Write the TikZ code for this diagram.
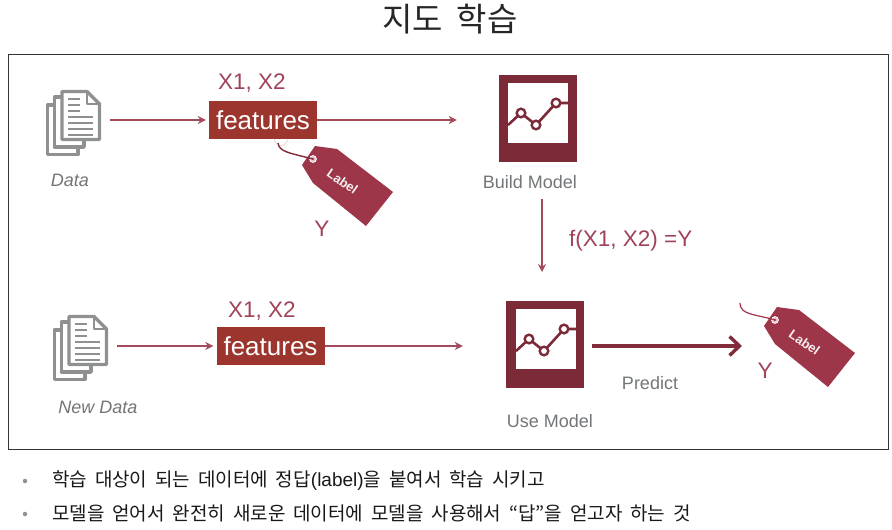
\documentclass[tikz,border=0pt]{standalone}
\usepackage{fontspec}
\setmainfont{Liberation Sans}
\newfontfamily\krfont{Noto Sans CJK KR}
\newfontfamily\krbody[WordSpace=1.85]{Noto Sans CJK KR}
\usetikzlibrary{arrows.meta,calc}
\definecolor{boxred}{HTML}{9B352D}
\definecolor{tagred}{HTML}{9E3649}
\definecolor{modelred}{HTML}{7C2A38}
\definecolor{linered}{HTML}{A34A5C}
\definecolor{txtred}{HTML}{A04358}
\definecolor{txtgray}{HTML}{737678}
\definecolor{icongray}{HTML}{8E9092}
\tikzset{
  x=1pt,y=-1pt,
  featbox/.style={fill=boxred,text=white,font=\fontsize{26}{26}\selectfont,minimum width=108pt,minimum height=38pt,inner sep=0pt},
  modelbox/.style={fill=modelred,minimum width=78pt,minimum height=87pt,inner sep=0pt},
  docbox/.style={minimum width=55pt,minimum height=66pt,inner sep=0pt},
  thinarrow/.style={draw=linered,line width=1.7pt,-{Stealth[length=8pt,width=8pt]}},
  bigarrow/.style={draw=modelred!85!tagred,line width=3.8pt,-{Straight Barb[length=10pt,width=19pt,line width=3.4pt]}},
  redtext/.style={text=txtred,font=\fontsize{22.5}{22.5}\selectfont,inner sep=0pt},
  graytext/.style={text=txtgray,font=\fontsize{18}{18}\selectfont,inner sep=0pt},
  grayital/.style={graytext,font=\fontsize{18}{18}\selectfont\itshape},
  bodytext/.style={anchor=west,inner sep=0pt,font=\fontsize{19}{19}\selectfont\krbody,text=black!90},
  bullet/.style={circle,fill=icongray,minimum size=4.5pt,inner sep=0pt},
  page/.style={draw=icongray,line width=3.4pt,fill=white,line join=round},
  docs/.pic={
    \draw[page] (1.5,15) -- (32,15) -- (32,64.5) -- (1.5,64.5) -- cycle;
    \draw[page] (8.5,7) -- (38,7) -- (38,57) -- (8.5,57) -- cycle;
    \draw[page] (16,1.5) -- (41,1.5) -- (53.5,14) -- (53.5,49.5) -- (16,49.5) -- cycle;
    \draw[icongray,line width=2.4pt,line join=round] (41,1.5) -- (41,14) -- (53.5,14);
    \foreach \yy in {9,15,21}{\draw[icongray,line width=1.8pt] (22,\yy) -- (34,\yy);}
    \foreach \yy in {27,33,39,45}{\draw[icongray,line width=1.8pt] (22,\yy) -- (47,\yy);}
  },
  chart/.pic={
    \fill[white] (9,8) rectangle (69,68);
    \draw[modelred,line width=2.6pt] (9,50) -- (22,38) -- (37,50) -- (57,28) -- (69,28);
    \foreach \px/\py in {22/38,37/50,57/28}{\draw[modelred,line width=2.4pt,fill=white] (\px,\py) circle (4.3);}
  },
  tagshape/.pic={
    \fill[tagred,line join=round] (2,-13) -- (24,-10) -- (80,33) -- (53,67) -- (0,24) -- (-11,6) -- cycle;
    \draw[white,fill=white!70!tagred,line width=.8pt] (0,0) circle (3.4);
    \fill[tagred] (0,0) circle (1.1);
    \node[rotate=-35,text=white!92!tagred,font=\fontsize{13}{13}\selectfont\bfseries,inner sep=0pt] at (29.5,22.5) {Label};
  }
}
\begin{document}
\begin{tikzpicture}
\useasboundingbox (0,0) rectangle (892,530);
\fill[white] (0,0) rectangle (892,530);
\node[inner sep=0pt,font=\fontsize{33}{33}\selectfont\krfont,text=black!85] (title) at (450,19) {지도 학습};
\draw[draw=black!80,line width=1pt,fill=white] (8.5,54.5) rectangle (888,449);

% top row
\node[docbox] (d1) at (73.5,123) {};
\pic at (46,90) {docs};
\node[featbox] (f1) at (263,120) {features};
\node[modelbox] (m1) at (538,118.5) {};
\pic at (499,75) {chart};
\node[grayital] (dl1) at (70,180.5) {Data};
\node[redtext] (x1) at (252,83) {X1, X2};
\node[graytext] (ml1) at (530,182) {Build Model};
\node[redtext] (y1) at (322,229) {Y};
\draw[thinarrow,shorten <=9pt,shorten >=3pt] (d1.east |- f1.west) -- (f1.west);
\draw[thinarrow,shorten >=42pt] (f1.east) -- (m1.west |- f1.east);

% tag on features
\pic at (313,159) {tagshape};
\coordinate (tagh1) at (313,159);
\coordinate (ring1) at (278,143);
\draw[white!85!boxred,line width=1.2pt] (274.5,139) arc[start angle=180,end angle=0,radius=6.5];
\draw[modelred!90!tagred,line width=1.4pt] (ring1) .. controls (279,152) and (290,153) .. (tagh1);

% middle
\coordinate (down1) at (542,199);
\coordinate (down2) at (542,272);
\draw[thinarrow] (down1) -- (down2);
\node[redtext,anchor=west] (fx) at (569,241) {f(X1, X2) =Y};

% bottom row
\node[docbox] (d2) at (80.5,348) {};
\pic at (53,315) {docs};
\node[featbox] (f2) at (270.5,346) {features};
\node[modelbox] (m2) at (545,344) {};
\pic at (507,301) {chart};
\node[grayital] (dl2) at (98,407) {New Data};
\node[redtext] (x2) at (262,311) {X1, X2};
\node[graytext] (ml2) at (550,421) {Use Model};
\draw[thinarrow,shorten <=9pt,shorten >=3pt] (d2.east |- f2.west) -- (f2.west);
\draw[thinarrow,shorten >=43pt] (f2.east) -- (m2.west |- f2.east);

% predict
\coordinate (tagh2) at (775,320);
\coordinate (tagfree) at (740,303);
\draw[bigarrow,shorten <=8pt,shorten >=1pt] (m2.east |- f2.east) -- (743,346);
\node[graytext] (pr) at (650,383) {Predict};
\pic at (775,320) {tagshape};
\draw[tagred,line width=1.2pt] (tagfree) .. controls (740,315) and (755,314) .. (tagh2);
\node[redtext] (y2) at (765,371) {Y};

% bullets
\node[bullet] (b1) at (25,481) {};
\node[bullet] (b2) at (25,514) {};
\node[bodytext] (t1) at (52,481) {학습 대상이 되는 데이터에 정답{\fontspec{Liberation Sans}(label)}을 붙여서 학습 시키고};
\node[bodytext] (t2) at (52,513.5) {모델을 얻어서 완전히 새로운 데이터에 모델을 사용해서 “답”을 얻고자 하는 것};
\end{tikzpicture}
\end{document}
